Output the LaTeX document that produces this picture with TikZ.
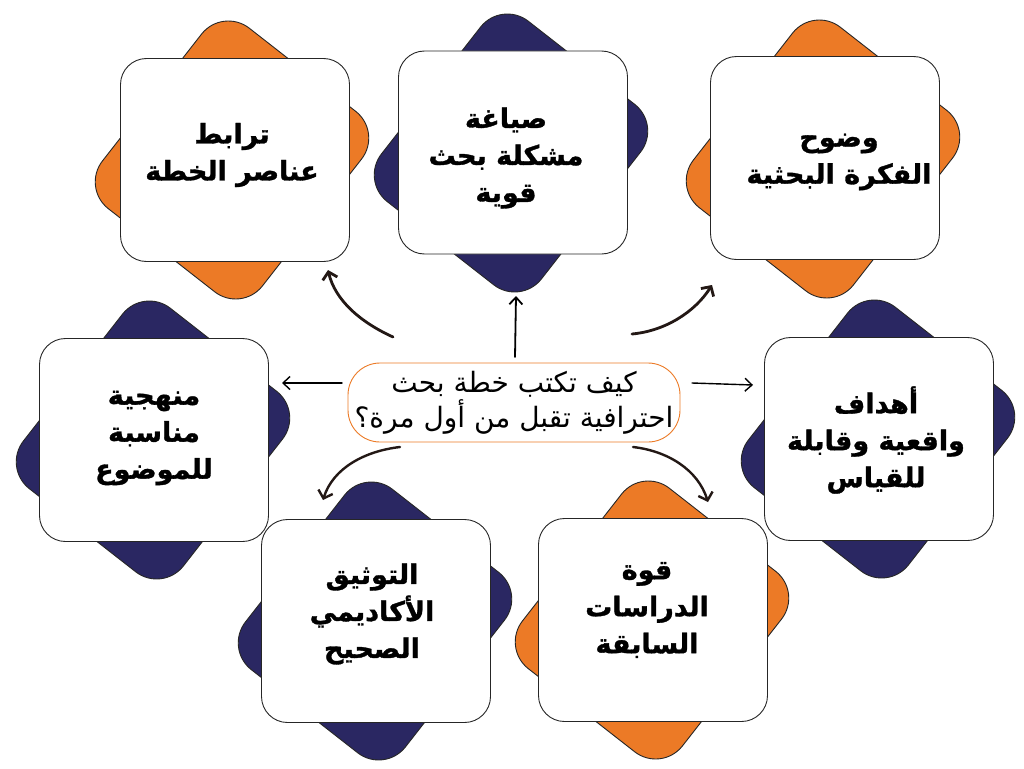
\documentclass[tikz,border=0pt]{standalone}
\usepackage{fontspec}
\TeXXeTstate=1
\newfontfamily\arabicfont[Script=Arabic]{DejaVu Sans}
\newfontfamily\arabicbold[Script=Arabic, FakeBold=1.2]{DejaVu Sans Bold}
\usetikzlibrary{arrows.meta}
\definecolor{orangeC}{RGB}{236,122,38}
\definecolor{navyC}{RGB}{42,39,98}
\definecolor{arrC}{RGB}{35,24,21}
\begin{document}
\begin{tikzpicture}[x=1pt,y=-1pt,
  card/.style={draw=black!85, line width=0.9pt, minimum width=229pt, minimum height=203pt, inner sep=0pt},
  whitecard/.style={card, fill=white, rounded corners=26pt},
  backo/.style={card, fill=orangeC, rotate=52, rounded corners=34pt},
  backn/.style={card, fill=navyC, rotate=52, rounded corners=34pt},
  cardtext/.style={align=center, inner sep=0pt, font=\arabicbold\fontsize{27}{37}\selectfont},
  bigarr/.style={draw=arrC, line width=2.8pt, line cap=round, -{Straight Barb[length=7pt,width=15pt]}},
  thinarr/.style={draw=black, line width=1.4pt, line cap=round, -{Straight Barb[length=7pt,width=13pt]}}
]
\useasboundingbox (0,0) rectangle (1024,768);
\fill[white] (0,0) rectangle (1024,768);

% backgrounds (rotated copies)
\node[backo] (b1) at (232,160) {};
\node[backn] (b2) at (511,153) {};
\node[backo] (b3) at (823,159) {};
\node[backn] (b5) at (153,440) {};
\node[backn] (b4) at (878,439) {};
\node[backn] (b6) at (375,621) {};
\node[backo] (b7) at (652,620) {};

% white cards
\node[whitecard] (c1) at (235,160) {};
\node[whitecard] (c2) at (513,152.5) {};
\node[whitecard] (c3) at (825,158) {};
\node[whitecard] (c5) at (154,440) {};
\node[whitecard] (c4) at (879,439) {};
\node[whitecard] (c6) at (376,621) {};
\node[whitecard] (c7) at (653,620) {};

% card texts
\node[cardtext] (t1) at (232,155) {\beginR ترابط\endR\\\beginR عناصر الخطة\endR};
\node[cardtext] (t2) at (506,158) {\beginR صياغة\endR\\\beginR مشكلة بحث\endR\\\beginR قوية\endR};
\node[cardtext] (t3) at (839,162) {\beginR وضوح\endR\\\beginR الفكرة البحثية\endR};
\node[cardtext] (t5) at (154,438) {\beginR منهجية\endR\\\beginR مناسبة\endR\\\beginR للموضوع\endR};
\node[cardtext] (t4) at (876,440) {\beginR أهداف\endR\\\beginR واقعية وقابلة\endR\\\beginR للقياس\endR};
\node[cardtext] (t6) at (372,614) {\beginR التوثيق\endR\\\beginR الأكاديمي\endR\\\beginR الصحيح\endR};
\node[cardtext] (t7) at (647,610) {\beginR قوة\endR\\\beginR الدراسات\endR\\\beginR السابقة\endR};

% central question
\node[draw=orangeC, line width=0.9pt, fill=white, rounded corners=32pt, minimum width=332pt, minimum height=79pt, inner sep=0pt, align=center, font=\arabicfont\fontsize{28}{35}\selectfont] (q) at (514,402.5)
  {\beginR كيف تكتب خطة بحث\endR\\\beginR احترافية تقبل من أول مرة؟\endR};

% arrow end points
\coordinate (a1s) at (393,337); \coordinate (a1e) at (328,270);
\coordinate (a3s) at (632,334); \coordinate (a3e) at (712,285);
\coordinate (a6s) at (400,447); \coordinate (a6e) at (323,500);
\coordinate (a7s) at (633,447); \coordinate (a7e) at (708,502);
\coordinate (a2s) at (515,357); \coordinate (a2e) at (516,296);
\coordinate (a5s) at (342,383); \coordinate (a5e) at (282,383);
\coordinate (a4s) at (692,383); \coordinate (a4e) at (753,385);

\draw[bigarr] (a1s) .. controls (360,322) and (335,300) .. (a1e);
\draw[bigarr] (a3s) .. controls (665,331) and (695,312) .. (a3e);
\draw[bigarr, line width=2.4pt] (a6s) .. controls (365,451) and (333,468) .. (a6e);
\draw[bigarr, line width=2.4pt] (a7s) .. controls (668,451) and (698,470) .. (a7e);
\draw[thinarr, line width=1.8pt] (a2s) -- (a2e);
\draw[thinarr] (a5s) -- (a5e);
\draw[thinarr] (a4s) -- (a4e);
\end{tikzpicture}
\end{document}
